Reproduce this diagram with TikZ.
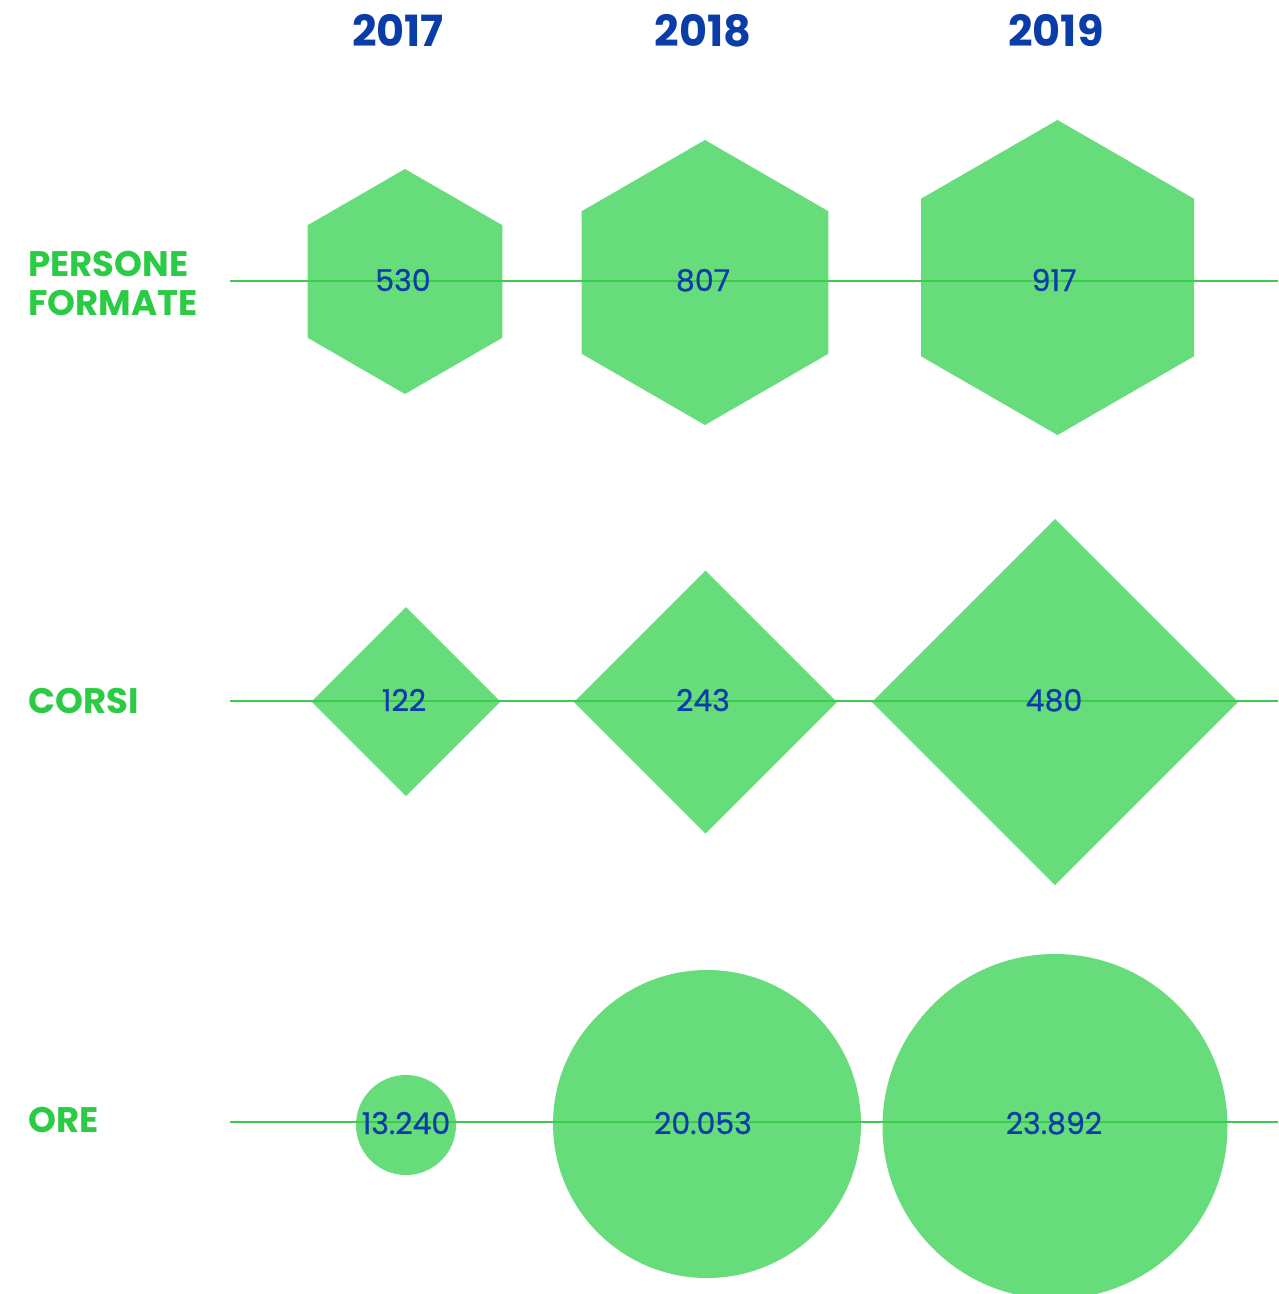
\documentclass[tikz,border=0pt]{standalone}
\usepackage{fontspec}
\setmainfont{Poppins}
\newfontfamily\numfont{Poppins}[FakeBold=0.7]
\definecolor{shapefill}{HTML}{67DC7A}
\definecolor{rowline}{HTML}{3CCB4C}
\definecolor{labgreen}{HTML}{2BCB45}
\definecolor{numblue}{HTML}{0B3DA8}
\tikzset{
  shp/.style={fill=shapefill, draw=none},
  rowln/.style={draw=rowline, line width=1.4pt},
  yearlab/.style={anchor=base, text=numblue, font=\fontsize{43}{48}\selectfont\bfseries, inner sep=0pt},
  rowlab/.style={anchor=base west, text=labgreen, font=\fontsize{35.5}{40}\selectfont\bfseries, inner sep=0pt},
  numlab/.style={anchor=base, text=numblue, font=\fontsize{30}{34}\selectfont\numfont, inner sep=0pt},
}
\begin{document}
\begin{tikzpicture}[x=1pt,y=-1pt]
\useasboundingbox (0,0) rectangle (1278,1294);
\clip (0,0) rectangle (1278,1294);
% centers
\coordinate (h1) at (405,281.5);
\coordinate (h2) at (705,282.5);
\coordinate (h3) at (1057.5,277.5);
\coordinate (d1) at (406,701.5);
\coordinate (d2) at (705.5,702);
\coordinate (d3) at (1055,702);
\coordinate (c1) at (406,1125);
\coordinate (c2) at (707,1124);
\coordinate (c3) at (1055,1126.5);
% hexagons
\fill[shp] (h1) ++(0,-112.5) -- ++(97.4,56.25) -- ++(0,112.5) -- ++(-97.4,56.25) -- ++(-97.4,-56.25) -- ++(0,-112.5) -- cycle;
\fill[shp] (h2) ++(0,-142.5) -- ++(123.4,71.25) -- ++(0,142.5) -- ++(-123.4,71.25) -- ++(-123.4,-71.25) -- ++(0,-142.5) -- cycle;
\fill[shp] (h3) ++(0,-157.5) -- ++(136.5,78.75) -- ++(0,157.5) -- ++(-136.5,78.75) -- ++(-136.5,-78.75) -- ++(0,-157.5) -- cycle;
% diamonds
\fill[shp] (d1) ++(0,-94.5) -- ++(94.5,94.5) -- ++(-94.5,94.5) -- ++(-94.5,-94.5) -- cycle;
\fill[shp] (d2) ++(0,-131.5) -- ++(131.5,131.5) -- ++(-131.5,131.5) -- ++(-131.5,-131.5) -- cycle;
\fill[shp] (d3) ++(0,-183) -- ++(183,183) -- ++(-183,183) -- ++(-183,-183) -- cycle;
% circles
\fill[shp] (c1) circle[radius=50];
\fill[shp] (c2) circle[radius=154];
\fill[shp] (c3) circle[radius=172.5];
% row lines
\coordinate (r1a) at (230,281); \coordinate (r1b) at (1278,281);
\coordinate (r2a) at (230,701); \coordinate (r2b) at (1278,701);
\coordinate (r3a) at (230,1122); \coordinate (r3b) at (1278,1122);
\draw[rowln] (r1a) -- (r1b);
\draw[rowln] (r2a) -- (r2b);
\draw[rowln] (r3a) -- (r3b);
% year labels
\node[yearlab] (y1) at (398,46) {2017};
\node[yearlab] (y2) at (703,46) {2018};
\node[yearlab] (y3) at (1056,46) {2019};
% row labels
\node[rowlab] (l1a) at (28,276) {PERSONE};
\node[rowlab] (l1b) at (28,315) {FORMATE};
\node[rowlab] (l2) at (28,713) {CORSI};
\node[rowlab] (l3) at (28,1132) {ORE};
% numbers
\node[numlab] (n11) at (403,291) {530};
\node[numlab] (n12) at (703,291) {807};
\node[numlab] (n13) at (1054,291) {917};
\node[numlab] (n21) at (404,711) {122};
\node[numlab] (n22) at (703,711) {243};
\node[numlab] (n23) at (1054,711) {480};
\node[numlab] (n31) at (406,1134) {13.240};
\node[numlab] (n32) at (703,1134) {20.053};
\node[numlab] (n33) at (1054,1134) {23.892};
\end{tikzpicture}
\end{document}
